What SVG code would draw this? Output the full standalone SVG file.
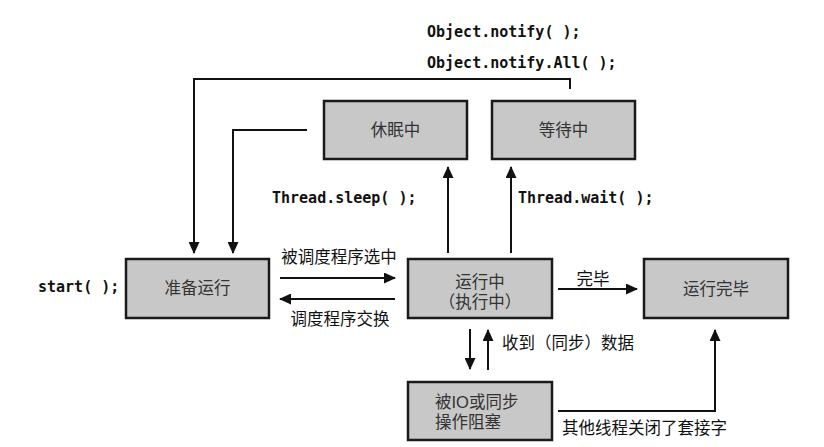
<svg xmlns="http://www.w3.org/2000/svg" width="824" height="447" viewBox="0 0 824 447">
<style>
.box{fill:#c8c8c8;stroke:#1a1a1a;stroke-width:2.5}
.cn{font-family:"Liberation Sans","Noto Sans CJK SC",sans-serif;font-size:16.5px;fill:#333}
.lb{font-family:"Liberation Sans","Noto Sans CJK SC",sans-serif;font-size:16.5px;fill:#111}
.mono{font-family:"DejaVu Sans Mono","Liberation Mono",monospace;font-size:15px;font-weight:bold;fill:#111}
.ln{fill:none;stroke:#111;stroke-width:2}
</style>
<defs>
<marker id="ah" viewBox="0 0 12 11" refX="11" refY="5.5" markerWidth="12" markerHeight="11" markerUnits="userSpaceOnUse" orient="auto">
<path d="M0,0 L12,5.5 L0,11 Z" fill="#111"/>
</marker>
</defs>
<rect width="824" height="447" fill="#fff"/>
<g id="connectors">
<path class="ln" d="M570,89 V79 H194 V253" marker-end="url(#ah)"/>
<path class="ln" d="M307,130 H233 V253" marker-end="url(#ah)"/>
<path class="ln" d="M448,253 V167" marker-end="url(#ah)"/>
<path class="ln" d="M511,253 V167" marker-end="url(#ah)"/>
<path class="ln" d="M280,278 H395" marker-end="url(#ah)"/>
<path class="ln" d="M395,299 H280" marker-end="url(#ah)"/>
<path class="ln" d="M558,289 H637" marker-end="url(#ah)"/>
<path class="ln" d="M470,329 V369" marker-end="url(#ah)"/>
<path class="ln" d="M488,370 V330" marker-end="url(#ah)"/>
<path class="ln" d="M558,411 H715 V330" marker-end="url(#ah)"/>
<text class="mono" x="427" y="37">Object.notify( );</text>
<text class="mono" x="427" y="68">Object.notify.All( );</text>
<text class="mono" x="272" y="203">Thread.sleep( );</text>
<text class="mono" x="518" y="203">Thread.wait( );</text>
<text class="mono" x="38" y="292">start( );</text>
<text class="lb" x="339" y="263" text-anchor="middle">被调度程序选中</text>
<text class="lb" x="340" y="325" text-anchor="middle">调度程序交换</text>
<text class="lb" x="593" y="285" text-anchor="middle">完毕</text>
<text class="lb" x="502" y="349">收到（同步）数据</text>
<text class="lb" x="562" y="434">其他线程关闭了套接字</text>
</g>
<g id="sleeping">
<rect class="box" x="324" y="101" width="143" height="58"/>
<text class="cn" x="395.5" y="136" text-anchor="middle">休眠中</text>
</g>
<g id="waiting">
<rect class="box" x="492" y="101" width="143" height="58"/>
<text class="cn" x="563.5" y="136" text-anchor="middle">等待中</text>
</g>
<g id="ready">
<rect class="box" x="126" y="259" width="143" height="59"/>
<text class="cn" x="197.5" y="294" text-anchor="middle">准备运行</text>
</g>
<g id="running">
<rect class="box" x="408" y="259" width="144" height="59"/>
<text class="cn" x="480" y="288" text-anchor="middle">运行中</text>
<text class="cn" x="480" y="308" text-anchor="middle">（执行中）</text>
</g>
<g id="finished">
<rect class="box" x="644" y="259" width="144" height="59"/>
<text class="cn" x="716" y="295" text-anchor="middle">运行完毕</text>
</g>
<g id="blocked">
<rect class="box" x="408" y="382" width="144" height="58"/>
<text class="cn" x="435" y="408">被IO或同步</text>
<text class="cn" x="435" y="428">操作阻塞</text>
</g>
</svg>
